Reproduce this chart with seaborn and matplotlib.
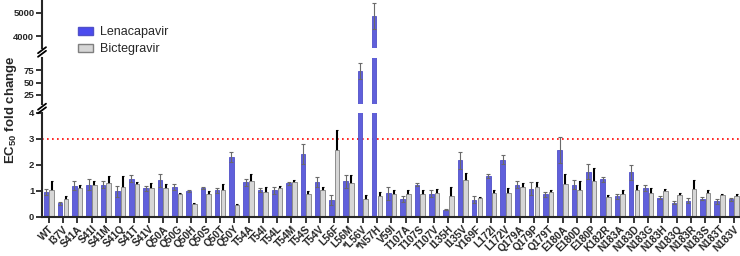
import pandas as pd
import matplotlib.pyplot as plt
import seaborn as sns
from matplotlib.lines import Line2D
from matplotlib.patches import Patch

# Datos
mutants = ['WT', 'I37V', 'S41A', 'S41I', 'S41M', 'S41Q', 'S41T', 'S41V', 'Q50A', 'Q50G',
           'Q50H', 'Q50S', 'Q50T', 'Q50Y', 'T54A', 'T54I', 'T54L', 'T54M', 'T54S', 'T54V',
           'L56F', 'L56M', '*L56V', '*N57H', 'V59I', 'T107A', 'T107S', 'T107V', 'I135H', 'I135V',
           'Y169F', 'L172I', 'L172V', 'Q179A', 'Q179P', 'Q179T', 'E180A', 'E180D', 'E180P', 'K182R',
           'N183A', 'N183D', 'N183G', 'N183H', 'N183Q', 'N183R', 'N183S', 'N183T', 'N183V']

lena = [0.97, 0.53, 1.21, 1.25, 1.25, 0.99, 1.48, 1.11, 1.42, 1.16,
        0.99, 1.11, 1.02, 2.32, 1.33, 1.04, 1.02, 1.29, 2.42, 1.34,
        0.66, 1.38, 73, 4870, 0.91, 0.68, 1.25, 0.90, 0.28, 2.18,
        0.66, 1.57, 2.20, 1.25, 1.09, 0.88, 2.57, 1.25, 1.74, 1.45,
        0.80, 1.72, 1.12, 0.75, 0.55, 0.63, 0.71, 0.60, 0.68]
lena_err = [0.12, 0.05, 0.18, 0.23, 0.15, 0.22, 0.12, 0.10, 0.25, 0.11,
            0.03, 0.04, 0.11, 0.19, 0.12, 0.08, 0.13, 0.06, 0.37, 0.19,
            0.20, 0.25, 16, 550, 0.24, 0.11, 0.04, 0.12, 0.01, 0.33,
            0.13, 0.08, 0.18, 0.14, 0.24, 0.10, 0.49, 0.19, 0.29, 0.09,
            0.10, 0.28, 0.13, 0.05, 0.05, 0.10, 0.05, 0.11, 0.05]

bic = [1.04, 0.68, 1.11, 1.24, 1.29, 1.17, 1.27, 1.11, 1.11, 0.90,
       0.51, 0.90, 1.04, 0.48, 1.38, 0.98, 1.11, 1.34, 0.90, 1.02,
       2.59, 1.29, 0.71, 0.80, 0.89, 0.90, 0.90, 0.94, 0.82, 1.44,
       0.75, 0.91, 0.94, 1.17, 1.15, 0.95, 1.27, 1.04, 1.38, 0.77,
       0.88, 1.04, 0.94, 0.99, 0.84, 1.09, 0.94, 0.84, 0.80]
bic_err = [0.34, 0.14, 0.13, 0.14, 0.29, 0.39, 0.09, 0.18, 0.16, 0.03,
           0.03, 0.10, 0.22, 0.02, 0.29, 0.19, 0.10, 0.10, 0.10, 0.13,
           0.76, 0.31, 0.14, 0.18, 0.13, 0.12, 0.14, 0.14, 0.35, 0.27,
           0.02, 0.11, 0.17, 0.14, 0.21, 0.07, 0.38, 0.36, 0.49, 0.07,
           0.15, 0.21, 0.17, 0.09, 0.09, 0.35, 0.09, 0.05, 0.09]

drugs = ['Lenacapavir', 'Bictegravir']
colores = {'Lenacapavir': '#4b4bef', 'Bictegravir': '#d6d6d6'}
bordes = {'Lenacapavir': '#5050c8', 'Bictegravir': '#7f7f7f'}

n = len(mutants)
df = pd.DataFrame({'mutant': mutants * 2,
                   'fold': lena + bic,
                   'drug': [drugs[0]] * n + [drugs[1]] * n})

sns.set_style('ticks')
plt.rcParams['font.family'] = ['Liberation Sans', 'DejaVu Sans']
plt.rcParams['mathtext.fontset'] = 'custom'
plt.rcParams['mathtext.rm'] = 'Liberation Sans:bold'
plt.rcParams['mathtext.bf'] = 'Liberation Sans:bold'

W, H = 740, 256
fig = plt.figure(figsize=(W / 100, H / 100), dpi=100)

def fy(py):
    return 1 - py / H

left, width = 42 / W, 699 / W
ax_top = fig.add_axes([left, fy(48), width, 48 / H])
ax_mid = fig.add_axes([left, fy(104), width, 46.5 / H])
ax_bot = fig.add_axes([left, fy(217), width, 104 / H])

for ax in (ax_top, ax_mid, ax_bot):
    sns.barplot(data=df, x='mutant', y='fold', hue='drug', hue_order=drugs,
                palette=colores, width=0.8, gap=0.2, errorbar=None,
                legend=False, ax=ax, zorder=2, linewidth=0.6)
    # barras de error a partir de las posiciones de las barras
    for cont, drug, err, ec, lw, cap, z in zip(ax.containers, drugs, [lena_err, bic_err],
                                               ['#6a6a6a', 'black'], [0.8, 1.5],
                                               [1.2, 0.8], [3, 1.5]):
        xs = [p.get_x() + p.get_width() / 2 for p in cont]
        ys = [p.get_height() for p in cont]
        for p in cont:
            p.set_edgecolor(bordes[drug])
        ax.errorbar(xs, ys, yerr=err, fmt='none', ecolor=ec, elinewidth=lw,
                    capsize=cap, capthick=0.8, zorder=z)
    ax.set_xlim(-0.47, 48.5)
    ax.set_xlabel('')
    ax.set_ylabel('')
    sns.despine(ax=ax)
    ax.spines['left'].set_linewidth(1.5)
    ax.spines['bottom'].set_linewidth(1.5)
    ax.tick_params(axis='y', length=4, width=1.3, labelsize=6.8, pad=1.5)

# ejes superiores sin eje x
for ax in (ax_top, ax_mid):
    ax.spines['bottom'].set_visible(False)
    ax.tick_params(axis='x', bottom=False, labelbottom=False)

ax_top.set_ylim(3500, 5550)
ax_top.set_yticks([4000, 5000])
ax_mid.set_ylim(7, 100)
ax_mid.set_yticks([25, 50, 75])
ax_bot.set_ylim(0, 4)
ax_bot.set_yticks([0, 1, 2, 3, 4])
for ax in (ax_top, ax_mid, ax_bot):
    for t in ax.get_yticklabels():
        t.set_fontweight('bold')

# linea de corte en 3
ax_bot.axhline(3, color='red', ls=(0, (1, 2)), lw=1.2, zorder=1)

ax_bot.tick_params(axis='x', length=4, width=1.3, pad=1)
ax_bot.set_xticks(range(n))
ax_bot.set_xticklabels(mutants, rotation=45, ha='right', rotation_mode='anchor',
                       fontsize=7.4, fontweight='bold')

# marcas de corte del eje
for gy in (52, 108.5):
    for dy in (-1.8, 1.8):
        fig.add_artist(Line2D([(42 - 4) / W, (42 + 4) / W],
                              [fy(gy + dy + 3), fy(gy + dy - 3)],
                              color='black', lw=1.3, transform=fig.transFigure))

fig.text(11 / W, fy(110), r'EC$_{\mathbf{50}}$ fold change', rotation=90,
         ha='center', va='center', fontsize=9.5, fontweight='bold')

handles = [Patch(facecolor=colores[d], edgecolor=bordes[d], label=d) for d in drugs]
fig.legend(handles=handles, loc='upper left', bbox_to_anchor=(78 / W, fy(26)),
           frameon=False, fontsize=9, handlelength=1.2, handleheight=0.6,
           handletextpad=0.55, labelspacing=0.4, borderpad=0, borderaxespad=0)

plt.savefig('out.png', dpi=100)
